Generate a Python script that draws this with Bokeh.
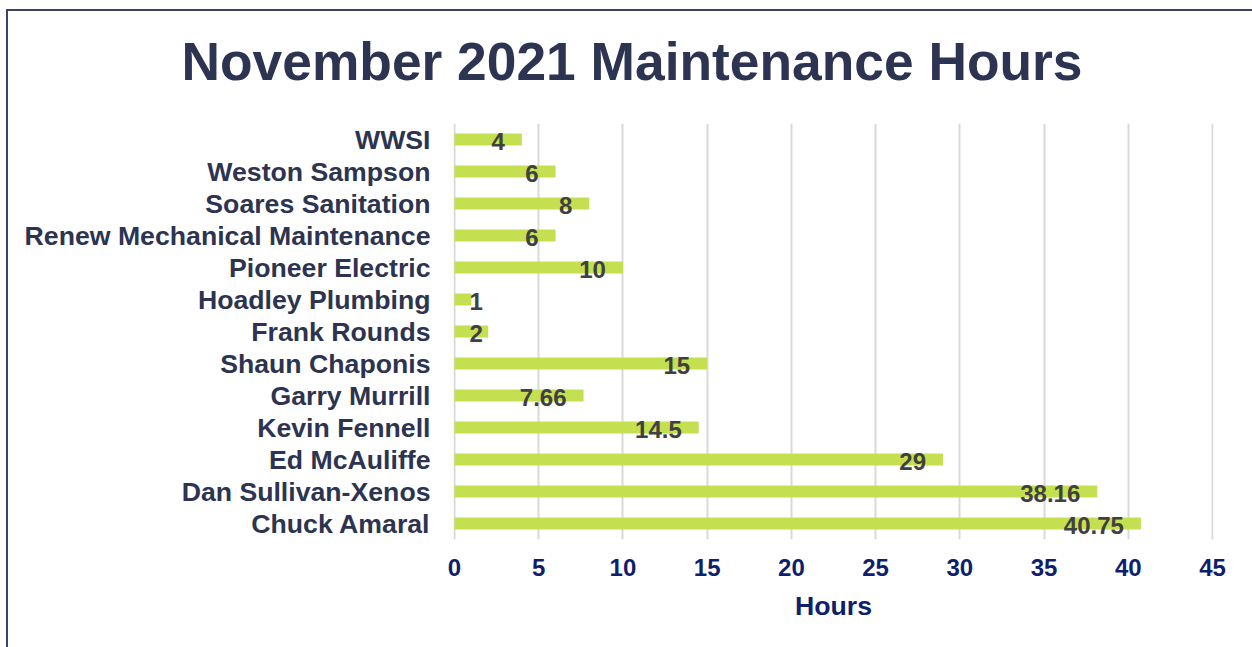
from bokeh.plotting import figure
from bokeh.models import ColumnDataSource, Range1d, FactorRange
from bokeh.core.properties import value
from bokeh.embed import file_html
from bokeh.resources import INLINE

# Data (top to bottom as shown)
names = ["WWSI", "Weston Sampson", "Soares Sanitation", "Renew Mechanical Maintenance",
         "Pioneer Electric", "Hoadley Plumbing", "Frank Rounds", "Shaun Chaponis",
         "Garry Murrill", "Kevin Fennell", "Ed McAuliffe", "Dan Sullivan-Xenos", "Chuck Amaral"]
hours = [4, 6, 8, 6, 10, 1, 2, 15, 7.66, 14.5, 29, 38.16, 40.75]
labels = ["4", "6", "8", "6", "10", "1", "2", "15", "7.66", "14.5", "29", "38.16", "40.75"]
x_ticks = [0, 5, 10, 15, 20, 25, 30, 35, 40, 45]

FONT = "Liberation Sans"
TITLE_C = "#2C3451"
NAVY = "#0F1F6B"
BAR_C = "#C4DF50"
LBL_C = "#404040"
BORDER_C = "#3B4464"

W, H = 1246, 649
frame_w, frame_h = 760, 416
left, top = 447, 125
x0, x1 = -0.06, 45.06
ppu = frame_w / (x1 - x0)

# label placement (inside end, clamped near base)
lx, loff, lalign = [], [], []
for v, t in zip(hours, labels):
    w = len(t) * 12.5
    if v * ppu - 17 - w < 15:
        lx.append(0); loff.append(15); lalign.append("left")
    else:
        lx.append(v); loff.append(-17); lalign.append("right")

src = ColumnDataSource(dict(name=names, hours=hours, label=labels, lx=lx, loff=loff, lalign=lalign))

p = figure(width=W, height=H, output_backend="svg", toolbar_location=None,
           y_range=FactorRange(factors=list(reversed(names)), range_padding=0),
           x_range=Range1d(x0, x1),
           min_border_left=left, min_border_right=W - left - frame_w,
           min_border_top=top, min_border_bottom=H - top - frame_h,
           title="November 2021 Maintenance Hours")

p.title.text_font = FONT
p.title.text_font_size = "53.33px"
p.title.text_font_style = "bold"
p.title.text_color = TITLE_C
p.title.align = "left"
p.title.offset = -272
p.title.vertical_align = "top"
p.title.standoff = 62

p.hbar(y="name", right="hours", left=0, height=0.37, source=src, color=BAR_C, line_color=None)
p.text(x="lx", y="name", text="label", source=src, x_offset="loff", y_offset=2,
       text_align="lalign", text_baseline="middle",
       text_font=value(FONT), text_font_size="24px", text_font_style="bold", text_color=LBL_C)

p.outline_line_color = None
p.border_fill_color = None
p.background_fill_color = "white"
p.ygrid.grid_line_color = None
p.xgrid.grid_line_color = "#D9D9D9"
p.xgrid.grid_line_width = 2
p.xgrid.ticker = x_ticks
p.xaxis.ticker = x_ticks

for ax in (p.xaxis[0], p.yaxis[0]):
    ax.axis_line_color = None
    ax.major_tick_line_color = None
    ax.minor_tick_line_color = None
    ax.major_label_text_font = FONT
    ax.major_label_text_font_style = "bold"

p.yaxis.major_label_text_font_size = "26.67px"
p.yaxis.major_label_text_color = TITLE_C
p.yaxis.major_label_standoff = 17

p.xaxis.major_label_text_font_size = "24px"
p.xaxis.major_label_text_color = NAVY
p.xaxis.major_label_standoff = 13
p.xaxis.axis_label = "Hours"
p.xaxis.axis_label_text_font = FONT
p.xaxis.axis_label_text_font_size = "26.67px"
p.xaxis.axis_label_text_font_style = "bold"
p.xaxis.axis_label_text_color = NAVY
p.xaxis.axis_label_standoff = 12

p.styles = {
    "margin-left": "6px", "margin-top": "-2px",
    "background-color": "white",
    "background-image": f"linear-gradient({BORDER_C}, {BORDER_C}), linear-gradient({BORDER_C}, {BORDER_C})",
    "background-size": "100% 2px, 2px 100%",
    "background-position": "0 11px, 0 11px",
    "background-repeat": "no-repeat",
}

open("out.html", "w").write(file_html(p, INLINE))
